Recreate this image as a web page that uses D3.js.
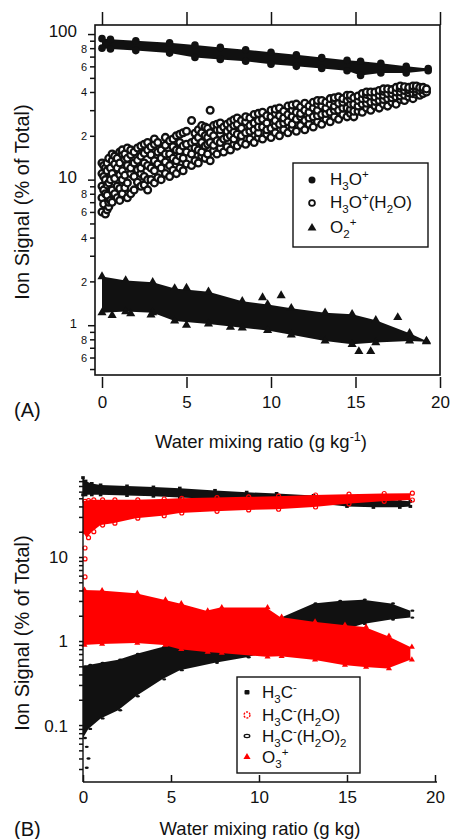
<!DOCTYPE html>
<html><head><meta charset="utf-8">
<script src="https://cdn.jsdelivr.net/npm/d3@7"></script>
<style>
body{margin:0;background:#fff}
text{font-family:"Liberation Sans",Arial,Helvetica,sans-serif;fill:#111}
</style>
</head><body>
<svg id="c" width="452" height="839"></svg>
<script>
// ---------- DATA ----------
const xTicks = [0, 5, 10, 15, 20];
const yTicksA = [0.5,0.6,0.7,0.8,0.9,1,2,3,4,5,6,7,8,9,10,20,30,40,50,60,70,80,90,100];
const yTicksB = [0.03,0.04,0.05,0.06,0.07,0.08,0.09,0.1,0.2,0.3,0.4,0.5,0.6,0.7,0.8,0.9,1,2,3,4,5,6,7,8,9,10,20,30,40,50,60,70,80];

// Panel A: H3O+ band (envelope of marker centres)
const h3oX  = [0, 0.5, 2, 4, 5.5, 7, 8.5, 10, 11.5, 13, 14.5, 15.3, 16.5, 18, 19.3];
const h3oHi = [93, 92, 90, 87, 84, 81, 78, 75, 72, 69, 66, 65, 63, 60, 58];
const h3oLo = [80, 79, 77, 74, 69, 67, 65, 62, 60, 58, 56, 52, 54, 54, 56];

// Panel A: H3O+(H2O) open circles, [x, [y values]]
const hydBins = [
 [0.0,[6,7.5,9,11,13]],[0.2,[5.8,8,10,12]],[0.4,[6.5,7,9.5,14]],[0.6,[7,8.5,11,13.5,15]],
 [0.9,[7.5,9,12,14]],[1.2,[8,10,11.5,15,16]],[1.5,[7.5,9.5,12.5,14,16.5]],[1.9,[8.5,10.5,13,15.5]],
 [2.3,[9,11,12,14.5,17]],[2.7,[8.5,10,12.5,16,18]],[3.1,[9.5,11.5,13.5,17.5,19]],[3.5,[10,12,14,16]],
 [4.0,[10.5,12.5,15,18.5]],[4.4,[11,13.5,16,20]],[4.8,[11.5,14,17,21]],[5.3,[12.5,15,18,25.5]],
 [5.7,[13,16,19.5,22]],[6.1,[14,17,20,23]],[6.4,[13.5,18,21,30]],[6.8,[15,18.5,22,24]],
 [7.2,[15.5,19,23]],[7.6,[16,20,22.5,25]],[8.0,[17,20.5,24,26.5]],[8.5,[17.5,21,25,27]],
 [9.0,[18,22,24.5,28]],[9.5,[19,23,26,29]],[10.0,[19.5,22.5,27,30]],[10.5,[20,24,27.5,31]],
 [11.0,[21,25,28,32]],[11.5,[21.5,26,29,33]],[12.0,[22,25.5,30,33.5]],[12.5,[23,27,31,34]],
 [13.0,[24,28,32,35]],[13.5,[25,29,33,36]],[14.0,[26,30,33.5,37]],[14.5,[27,31,35,38]],
 [14.9,[27,29.5,33,36.5]],[15.4,[29,33,36,39]],[15.9,[30,34,37.5,40]],[16.4,[31,35,38,41]],
 [16.9,[32,36,39,42]],[17.4,[33,37,40,43]],[17.9,[35,38,41,43.5]],[18.4,[36,39,42,44]],
 [18.8,[38,41,43]],[19.2,[40,42]],
 [0.1,[6.8,8.5,10.5,12.5]],[0.3,[6.2,7.8,9.2,11.5,13]],[0.5,[7.2,10,12]],[0.75,[8,10.2,12.8,14.5]],
 [1.05,[7.2,8.7,10.8,13,15.5]],[1.35,[8.8,10.7,13.8,15]],[1.7,[8,11,12,14.8,16]],[2.1,[9.6,11.7,13.6,16.5]],
 [2.5,[9.2,10.5,13,15.2,17.5]],[2.9,[10,12,14.8,16.8]],[3.3,[10.3,12.8,15.5,18]],[3.75,[11,13.2,15,17.2,19.5]],
 [4.2,[11.6,14,16.8,19]],[4.6,[12,14.5,15.8,18,20.5]],[5.0,[12.8,15.5,17.5,21.5]],[5.5,[13.5,16.5,18.5,20.8]],
 [5.9,[14.5,15.5,18,21,23.5]],[6.25,[15,17.5,19.5,22.5]],[6.6,[15.8,17.2,20,23.5]],[7.0,[16.5,18,20.5,22,24.5]],
 [7.4,[16.8,19.5,21.5,24]],[7.8,[17.5,19,21.2,23.5,25.8]],[8.25,[18,20,22.5,25.5]],[8.75,[19,21.5,23.5,26.5]],
 [9.25,[19.5,21,23,25.5,28.5]],[9.75,[20.5,22,24.5,27.5]],[10.25,[21,23.5,25.5,28.5,30.5]],[10.75,[22,24.5,26.5,29.5]],
 [11.25,[22.5,24,27,30,32.5]],[11.75,[23.5,27,28.5,31.5]],[12.25,[24,26.5,29,32]],[12.75,[25,27.5,30,33,35]],
 [13.25,[26,28.5,31,34]],[13.75,[27,30,32,35,36.5]],[14.25,[28,31,34,36]],[14.7,[28.5,30.5,33,36,38]],
 [15.15,[29.5,32,35,37.5]],[15.65,[31,33.5,36,38.5,40]],[16.15,[32,34.5,37,40]],[16.65,[33,35.5,38,40.5,42]],
 [17.15,[34,36.5,39,41.5]],[17.65,[35.5,37.5,40,42.5,44]],[18.15,[37,39.5,41.5,43]],[18.6,[38.5,40,42,44]],
 [19.0,[39,41.5,43]]
];

// Panel A: O2+ band + outliers
const o2X  = [0, 1.4, 3.0, 4.3, 6.3, 8.3, 9.8, 11.2, 13.2, 14.8, 16.2, 18.2, 19.2];
const o2Hi = [2.16, 2.03, 1.97, 1.79, 1.7, 1.46, 1.39, 1.31, 1.22, 1.19, 1.08, 0.88, 0.78];
const o2Lo = [1.22, 1.24, 1.22, 1.07, 1.02, 0.96, 0.92, 0.86, 0.78, 0.74, 0.76, 0.78, 0.77];
const o2Out = [[9.5,1.55],[10.6,1.6],[17.5,1.13],[15.2,0.66],[15.9,0.66],[0.6,1.17],[1.7,1.2],[2.9,1.18],[5.0,1.0],[7.6,0.97],[5.0,1.8]];

// Panel B: H3C-
const hcX  = [0, 0.15, 0.5, 1, 2.5, 4, 5.5, 7.5, 9.3, 11, 13.1, 15, 16.5, 18, 18.6];
const hcHi = [88, 80, 75, 72, 70, 68, 66, 62, 59, 57, 54, 50, 49, 47, 46];
const hcLo = [55, 55, 55, 55, 54, 53, 51, 49, 48, 46, 44, 40, 39, 39, 40];
// Panel B: H3C-(H2O)
const hwX  = [0, 0.2, 0.5, 1, 1.7, 3, 4.5, 5.5, 7.5, 9.3, 11, 13.1, 15, 17, 18.6];
const hwHi = [46, 47, 48, 48, 48, 48, 49, 50, 51, 52, 53, 54.7, 56, 57, 57.5];
const hwLo = [20, 17, 20, 24, 25.3, 29, 31, 33.4, 35, 36.3, 37, 39.4, 43, 46, 47.7];
const hwIso = [[0,12.8],[0,9.5],[0,5.8]];
// Panel B: H3C-(H2O)2
const w2X  = [0, 0.3, 1, 2, 3, 4.5, 5.5, 7.5, 9.3, 11, 13.1, 14.5, 15.9, 17.5, 18.6];
const w2Hi = [0.5, 0.52, 0.55, 0.6, 0.7, 0.85, 0.95, 1.1, 1.25, 1.8, 2.8, 3.0, 3.1, 2.8, 2.3];
const w2Lo = [0.07, 0.09, 0.12, 0.15, 0.22, 0.35, 0.45, 0.55, 0.64, 0.8, 1.1, 1.3, 1.6, 1.8, 1.9];
const w2Iso = [[0.1,0.055],[0.2,0.04],[0.1,0.031]];
// Panel B: O3+
const oX  = [0, 1.0, 3.0, 4.6, 5.5, 7.0, 7.8, 10.4, 11.2, 13.1, 14.8, 16.0, 17.3, 18.6];
const oHi = [4.05, 4.0, 3.7, 3.1, 2.8, 2.3, 2.5, 2.5, 1.93, 1.7, 1.55, 1.47, 1.15, 0.85];
const oLo = [0.9, 0.92, 0.95, 0.9, 0.8, 0.74, 0.72, 0.65, 0.66, 0.6, 0.52, 0.49, 0.47, 0.6];

// ---------- LAYOUT ----------
const svg = d3.select('#c');
const INK = '#111', RED = '#ff0000';
const A = {left:95, top:25, right:440, bottom:375};
const B = {left:83, top:477, right:437, bottom:782};
const xA = d3.scaleLinear().domain([0,20]).range([102,440]);
const yA = d3.scaleLog().domain([0.455,115.4]).range([A.bottom,A.top]);
const xB = d3.scaleLinear().domain([0,20]).range([83,435]);
const yB = d3.scaleLog().domain([0.021,89.6]).range([B.bottom,B.top]);

function zip(xs, a, b){ return xs.map((x,i)=>({x, hi:a[i], lo:b[i]})); }
function band(g, xs, hi, lo, xS, yS, color, op){
  const d = zip(xs, hi, lo);
  g.append('path').datum(d)
    .attr('d', d3.area().x(p=>xS(p.x)).y0(p=>yS(p.lo)).y1(p=>yS(p.hi)))
    .attr('fill', color).attr('fill-opacity', op||1);
  return d;
}
function rich(g, x, y, parts, size, anchor){
  const t = g.append('text').attr('x',x).attr('y',y).attr('font-size',size).attr('text-anchor',anchor||'start');
  let cur = 0;
  parts.forEach(([s,k])=>{
    const off = k==='sub' ? size*0.3 : k==='sup' ? -size*0.4 : 0;
    t.append('tspan').attr('dy', off-cur).attr('font-size', k ? size*0.68 : size).text(s);
    cur = off;
  });
  return t;
}
const tri = d3.symbol().type(d3.symbolTriangle);

// ================= PANEL A =================
const gA = svg.append('g');
// H3O+ band
const hd = band(gA, h3oX, h3oHi, h3oLo, xA, yA, INK);
gA.selectAll('.hc').data(hd.flatMap(p=>[[p.x,p.hi],[p.x,p.lo]])).join('circle')
  .attr('cx',d=>xA(d[0])).attr('cy',d=>yA(d[1])).attr('r',3.8).attr('fill',INK);
// H3O+(H2O) open circles
const hyd = hydBins.flatMap(([x,ys])=>ys.map(y=>[x,y])).sort((a,b)=>a[0]-b[0]);
gA.selectAll('.oc').data(hyd).join('circle')
  .attr('cx',d=>xA(d[0])).attr('cy',d=>yA(d[1])).attr('r',3.4)
  .attr('fill','#fff').attr('stroke',INK).attr('stroke-width',2.3);
// O2+ band
const od = band(gA, o2X, o2Hi, o2Lo, xA, yA, INK);
gA.selectAll('.tr').data(od.flatMap(p=>[[p.x,p.hi],[p.x,p.lo]]).concat(o2Out)).join('path')
  .attr('transform',d=>`translate(${xA(d[0])},${yA(d[1])})`)
  .attr('d', tri.size(36)()).attr('fill',INK);

// box
gA.append('rect').attr('x',A.left).attr('y',A.top).attr('width',A.right-A.left).attr('height',A.bottom-A.top)
  .attr('fill','none').attr('stroke',INK).attr('stroke-width',1.6);

// x axis bottom (offset ticks)
const axAB = gA.append('g').attr('transform',`translate(0,${A.bottom+2})`)
  .call(d3.axisBottom(xA).tickValues(xTicks).tickSize(11).tickPadding(8).tickFormat(d3.format('d')));
axAB.select('.domain').remove();
// x ticks mirrored on top
const axAT = gA.append('g').attr('transform',`translate(0,${A.top})`)
  .call(d3.axisTop(xA).tickValues(xTicks).tickSize(13).tickFormat(''));
axAT.select('.domain').remove();
// y axis left
const labA = d => {
  if (d===100||d===10) return String(d);
  if (d===1) return '1';
  const m = Math.round(d/Math.pow(10,Math.floor(Math.log10(d)+1e-9)));
  return [2,4,6,8].includes(m) ? String(m) : '';
};
const ayA = gA.append('g').attr('transform',`translate(${A.left},0)`)
  .call(d3.axisLeft(yA).tickValues(yTicksA).tickSize(5).tickFormat(labA));
ayA.select('.domain').remove();
ayA.selectAll('.tick').each(function(d){
  const major = (d===1||d===10||d===100);
  const s = d3.select(this);
  s.select('line').attr('x2', major? -7 : -5);
  const t = s.select('text');
  if (major){ t.attr('x', -18).attr('dy','0.16em').attr('font-size', d===1? 13 : 17); }
  else { t.attr('x', -8).attr('dy','0.35em').attr('font-size', 11); }
});

// legend A
const LA = gA.append('g');
LA.append('rect').attr('x',293).attr('y',163).attr('width',135).attr('height',84)
  .attr('fill','#fff').attr('stroke',INK).attr('stroke-width',1.4);
LA.append('circle').attr('cx',312).attr('cy',180).attr('r',3.5).attr('fill',INK);
LA.append('circle').attr('cx',312).attr('cy',203).attr('r',2.9).attr('fill','#fff').attr('stroke',INK).attr('stroke-width',1.8);
LA.append('path').attr('transform','translate(312,228)').attr('d',tri.size(34)()).attr('fill',INK);
rich(LA,330,185,[['H'],['3','sub'],['O'],['+','sup']],17);
rich(LA,330,208,[['H'],['3','sub'],['O'],['+','sup'],['(H'],['2','sub'],['O)']],17);
rich(LA,330,233,[['O'],['2','sub'],['+','sup']],17);

// labels A
svg.append('text').attr('transform','translate(29,202) rotate(-90)').attr('text-anchor','middle')
  .attr('font-size',20).text('Ion Signal (% of Total)');
rich(svg,261,448,[['Water mixing ratio (g kg'],['-1','sup'],[')']],18.5,'middle');
svg.append('text').attr('x',14).attr('y',417).attr('font-size',20).text('(A)');

// ================= PANEL B =================
const gB = svg.append('g');
const hcd = band(gB, hcX, hcHi, hcLo, xB, yB, INK);
gB.selectAll('.sq').data(hcd.flatMap(p=>[[p.x,p.hi],[p.x,p.lo]])).join('rect')
  .attr('x',d=>xB(d[0])-1.8).attr('y',d=>yB(d[1])-1.5).attr('width',3.6).attr('height',3).attr('fill',INK);
const hwd = band(gB, hwX, hwHi, hwLo, xB, yB, RED);
gB.selectAll('.rc').data(hwd.flatMap(p=>[[p.x,p.hi],[p.x,p.lo]]).concat(hwIso)).join('circle')
  .attr('cx',d=>xB(d[0])+2).attr('cy',d=>yB(d[1])).attr('r',2)
  .attr('fill','none').attr('stroke',RED).attr('stroke-width',1.2);
const w2d = band(gB, w2X, w2Hi, w2Lo, xB, yB, INK, 1);
gB.selectAll('.el').data(w2d.flatMap(p=>[[p.x,p.hi],[p.x,p.lo]]).concat(w2Iso)).join('ellipse')
  .attr('cx',d=>xB(d[0])+2).attr('cy',d=>yB(d[1])).attr('rx',2).attr('ry',1.2).attr('fill',INK);
const od3 = band(gB, oX, oHi, oLo, xB, yB, RED);
gB.selectAll('.rt').data(od3.flatMap(p=>[[p.x,p.hi],[p.x,p.lo]])).join('path')
  .attr('transform',d=>`translate(${xB(d[0])+1.5},${yB(d[1])})`)
  .attr('d', tri.size(16)()).attr('fill',RED);

// axes B
gB.append('line').attr('x1',B.left).attr('x2',B.right).attr('y1',B.bottom).attr('y2',B.bottom).attr('stroke',INK).attr('stroke-width',1.6);
gB.append('line').attr('x1',B.left).attr('x2',B.left).attr('y1',B.top).attr('y2',B.bottom).attr('stroke',INK).attr('stroke-width',1.4);
const axB = gB.append('g').attr('transform',`translate(0,${B.bottom})`)
  .call(d3.axisBottom(xB).tickValues(xTicks).tickSizeInner(-7).tickSizeOuter(0).tickPadding(9).tickFormat(d3.format('d')));
axB.select('.domain').remove();
const ayB = gB.append('g').attr('transform',`translate(${B.left},0)`)
  .call(d3.axisLeft(yB).tickValues(yTicksB).tickSize(4).tickPadding(11)
    .tickFormat(d => d===10?'10': d===1?'1': d===0.1?'0.1':''));
ayB.select('.domain').remove();
ayB.selectAll('.tick text').attr('dy','0.35em').attr('font-size',17);

// legend B
const LB = gB.append('g');
LB.append('rect').attr('x',237).attr('y',677).attr('width',123).attr('height',96)
  .attr('fill','#fff').attr('stroke',INK).attr('stroke-width',1.4);
LB.append('rect').attr('x',244.5).attr('y',690).attr('width',5).attr('height',4.5).attr('rx',1).attr('fill',INK);
LB.append('circle').attr('cx',247).attr('cy',715).attr('r',3).attr('fill','none').attr('stroke',RED).attr('stroke-width',1.3).attr('stroke-dasharray','2,1.2');
LB.append('ellipse').attr('cx',247).attr('cy',736).attr('rx',2.8).attr('ry',1.6).attr('fill','none').attr('stroke',INK).attr('stroke-width',1.3);
LB.append('path').attr('transform','translate(247,757)').attr('d',tri.size(22)()).attr('fill',RED);
rich(LB,262,698,[['H'],['3','sub'],['C'],['-','sup']],17);
rich(LB,262,721,[['H'],['3','sub'],['C'],['-','sup'],['(H'],['2','sub'],['O)']],17);
rich(LB,262,742,[['H'],['3','sub'],['C'],['-','sup'],['(H'],['2','sub'],['O)'],['2','sub']],17);
rich(LB,262,763,[['O'],['3','sub'],['+','sup']],17);

// axes styling
svg.selectAll('.tick line').attr('stroke',INK).attr('stroke-width',1.5);
svg.selectAll('.tick text').style('fill',INK).attr('font-family','"Liberation Sans",Arial,sans-serif');
axAB.selectAll('text').attr('font-size',17);
axB.selectAll('text').attr('font-size',17);

// labels B
svg.append('text').attr('transform','translate(29,633) rotate(-90)').attr('text-anchor','middle')
  .attr('font-size',20).text('Ion Signal (% of Total)');
svg.append('text').attr('x',260).attr('y',835).attr('text-anchor','middle').attr('font-size',18.5).text('Water mixing ratio (g kg)');
svg.append('text').attr('x',14).attr('y',836).attr('font-size',20).text('(B)');
</script>
</body></html>
